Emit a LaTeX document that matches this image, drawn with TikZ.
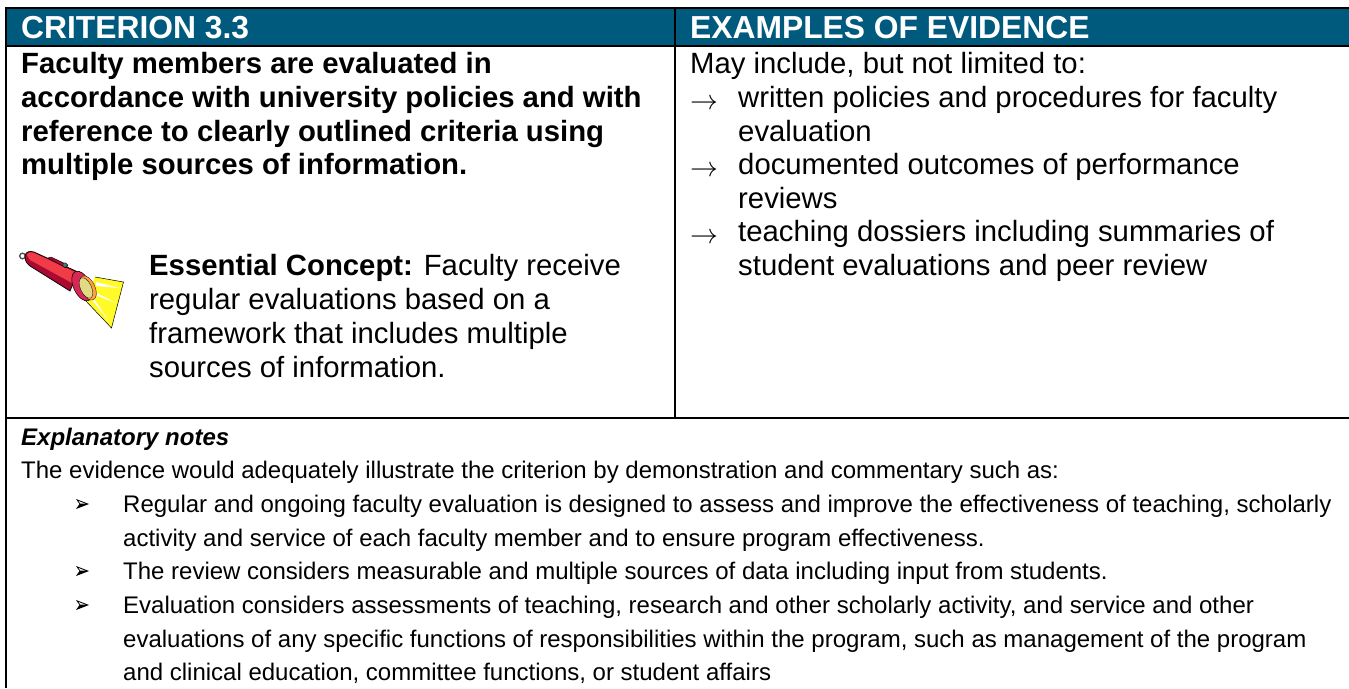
\documentclass[tikz,border=0pt]{standalone}
\usepackage{fontspec}
\setmainfont{Liberation Sans}
\definecolor{headblue}{RGB}{0,90,125}
\definecolor{torchred}{RGB}{240,60,70}
\definecolor{torchdark}{RGB}{170,10,50}
\definecolor{torchrim}{RGB}{215,40,85}
\definecolor{beam}{RGB}{255,250,40}
\tikzset{
  x=1pt,y=-1pt,
  head/.style={anchor=base west,text=white,font=\bfseries\fontsize{31.8}{36}\selectfont,inner sep=0pt},
  big/.style={anchor=base west,font=\fontsize{29.3}{36}\selectfont,inner sep=0pt},
  bigb/.style={big,font=\bfseries\fontsize{29.3}{36}\selectfont},
  small/.style={anchor=base west,font=\fontsize{24}{28}\selectfont,inner sep=0pt},
  rule/.style={black,line width=2pt},
  bul/.pic={
    \fill[black] (-6.5,-5) -- (6.5,0) -- (-6.5,5) -- (-3,0) -- cycle;
    \fill[white] (-4,-3) -- (3,-.3) -- (-2,-.3) -- cycle;
  }
}
\newcommand{\arw}{\scalebox{1.12}{$\rightarrow$}}
\begin{document}
\begin{tikzpicture}
\useasboundingbox (0,0) rectangle (1349,688);
\fill[headblue] (6,8) rectangle (1349,46);
\draw[rule] (5,8) -- (1349,8);
\draw[rule] (5,46) -- (1349,46);
\draw[rule] (5,417.5) -- (1349,417.5);
\draw[rule] (6,7) -- (6,688);
\draw[rule] (675,7) -- (675,417.5);
\node[head] (h1) at (21,38) {CRITERION 3.3};
\node[head] (h2) at (690,38) {EXAMPLES OF EVIDENCE};
\node[bigb] (c1) at (21,73) {Faculty members are evaluated in};
\node[bigb] (c2) at (21,107) {accordance with university policies and with};
\node[bigb] (c3) at (21,141) {reference to clearly outlined criteria using};
\node[bigb] (c4) at (21,174) {multiple sources of information.};
\node[big] (e1) at (149,275) {\textbf{Essential Concept:} Faculty receive};
\node[big] (e2) at (149,309) {regular evaluations based on a};
\node[big] (e3) at (149,343) {framework that includes multiple};
\node[big] (e4) at (149,377) {sources of information.};
\node[big] (m0) at (690,73) {May include, but not limited to:};
\node[big] (a1) at (690,109) {\arw};
\node[big] (m1) at (738,107) {written policies and procedures for faculty};
\node[big] (m2) at (738,141) {evaluation};
\node[big] (a2) at (690,176) {\arw};
\node[big] (m3) at (738,174) {documented outcomes of performance};
\node[big] (m4) at (738,208) {reviews};
\node[big] (a3) at (690,243) {\arw};
\node[big] (m5) at (738,241) {teaching dossiers including summaries of};
\node[big] (m6) at (738,275) {student evaluations and peer review};
\node[small] (n0) at (21,445) {\bfseries\itshape Explanatory notes};
\node[small] (n1) at (21,478) {The evidence would adequately illustrate the criterion by demonstration and commentary such as:};
\foreach \y/\t in {
 512/{Regular and ongoing faculty evaluation is designed to assess and improve the effectiveness of teaching, scholarly},
 546/{activity and service of each faculty member and to ensure program effectiveness.},
 579/{The review considers measurable and multiple sources of data including input from students.},
 613/{Evaluation considers assessments of teaching, research and other scholarly activity, and service and other},
 647/{evaluations of any specific functions of responsibilities within the program, such as management of the program},
 680/{and clinical education, committee functions, or student affairs}}
 {\node[small] at (123,\y) {\t};}
\foreach \y in {504,571,605}{
 \pic at (82.5,\y) {bul};
}
% flashlight
\fill[beam] (95,277) -- (123.5,282) -- (111.5,328) -- (85,300) -- cycle;
\fill[white] (96,282) -- (120,288) -- (96,286) -- cycle;
\fill[white] (93,291) -- (116,303) -- (93,294) -- cycle;
\fill[white] (89,296) -- (109,321) -- (92,296) -- cycle;
\draw[black,line width=.5pt] (95,277) -- (123.5,282) -- (111.5,328) -- (85,300);
\draw[gray!60!black,line width=1.3pt] (22.5,256) circle (2.8);
\fill[torchdark,draw=black,line width=.7pt] (25,256) .. controls (26,251) and (30,251) .. (34,252) -- (78,272) -- (70,291) -- (30,266) .. controls (26,263) and (25,260) .. (25,256) -- cycle;
\fill[torchred] (27,255) .. controls (28,252) and (31,252) .. (34,253) -- (77,273) -- (72,283) -- (30,260) -- cycle;
\fill[torchdark,draw=black,line width=.4pt] (48,258) -- (51,257) -- (68,265) -- (66,268) -- cycle;
\fill[gray!50!teal,draw=black,line width=.3pt] (65,265) circle (2.2);
\fill[torchrim,draw=black,line width=.5pt,rotate around={25:(82,286)}] (82,286) ellipse (8.5 and 16);
\fill[orange!75,draw=black,line width=.3pt,rotate around={25:(88,288)}] (88,288) ellipse (7 and 13);
\fill[yellow!60!gray!70,draw=black,line width=.3pt,rotate around={25:(86,288)}] (86,288) ellipse (5.5 and 11);
\end{tikzpicture}
\end{document}
